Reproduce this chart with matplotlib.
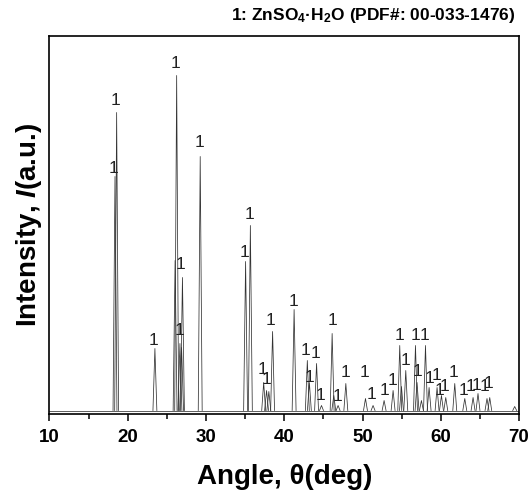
import matplotlib
matplotlib.use('Agg')
import matplotlib.pyplot as plt
from matplotlib.ticker import MultipleLocator

plt.rcParams['font.family'] = ['Liberation Sans', 'DejaVu Sans']
plt.rcParams['mathtext.fontset'] = 'custom'
plt.rcParams['mathtext.rm'] = 'Liberation Sans:bold'
plt.rcParams['mathtext.it'] = 'Liberation Sans:italic:bold'
plt.rcParams['mathtext.bf'] = 'Liberation Sans:bold'

# Положения пиков (2θ) и их интенсивности (отн. ед.)
peak_angle = [18.37, 18.58, 23.47, 26.05, 26.25, 26.67, 26.88, 26.99, 29.26,
              35.06, 35.67, 37.37, 37.74, 38.03, 38.51, 41.26, 42.95, 43.21,
              44.13, 44.76, 46.12, 46.33, 46.88, 47.87, 50.38, 51.35, 52.76,
              53.91, 54.76, 54.98, 55.53, 56.77, 56.97, 57.53, 58.05, 58.51,
              59.53, 60.09, 60.64, 61.79, 63.07, 64.13, 64.76, 65.91, 66.26,
              69.45]
peak_height = [234, 298, 62, 150, 335, 67, 63, 133, 254,
               149, 185, 28, 20, 19, 79, 101, 50, 28,
               47, 5, 77, 15, 5, 27, 12, 5, 10,
               20, 65, 24, 40, 65, 28, 10, 65, 23,
               23, 15, 13, 27, 12, 13, 17, 12, 13,
               4]

# Метки фазы "1" (положение и высота)
label_angle = [18.49, 18.24, 23.26, 26.16, 26.76, 26.58, 29.22, 34.88, 35.61,
               37.20, 37.74, 38.29, 41.23, 42.76, 43.18, 44.04, 44.67, 46.12,
               46.76, 47.83, 50.29, 51.15, 52.76, 53.83, 54.67, 55.49, 56.77,
               56.97, 57.96, 58.51, 59.45, 59.79, 60.42, 61.66, 62.85, 63.79,
               64.56, 65.62, 66.13]
label_height = [310, 242, 70, 347, 146, 80, 268, 158, 196,
                41, 31, 90, 109, 60, 33, 57, 15, 90,
                14, 38, 38, 16, 20, 30, 75, 50, 75,
                39, 75, 32, 35, 20, 24, 38, 20, 24,
                25, 24, 27]

x_ticks = [10, 20, 30, 40, 50, 60, 70]
half_width = 0.25

fig = plt.figure(figsize=(5.3, 4.94), dpi=100)
ax = fig.add_axes([49.5 / 530, 80 / 494, (519 - 49.5) / 530, (414 - 36) / 494])

ax.plot([10, 70], [0, 0], color='#333333', lw=0.55)
for a, h in zip(peak_angle, peak_height):
    ax.plot([a - half_width, a, a + half_width], [0, h, 0], color='#333333', lw=0.55)

for a, h in zip(label_angle, label_height):
    ax.text(a, h, '1', ha='center', va='center', fontsize=12.5, color='#222222')

ax.set_xlim(10, 70)
ax.set_ylim(-3.5, 374.5)
ax.set_xticks(x_ticks)
ax.xaxis.set_minor_locator(MultipleLocator(5))
ax.set_yticks([])
ax.tick_params(axis='x', which='major', direction='out', length=5, width=1.1,
               labelsize=13.5, pad=6)
ax.tick_params(axis='x', which='minor', direction='out', length=3.5, width=1.1)
for lbl in ax.get_xticklabels():
    lbl.set_fontweight('bold')
for s in ax.spines.values():
    s.set_linewidth(1.2)

ax.set_xlabel('Angle, θ(deg)', fontsize=20, fontweight='bold', labelpad=13)
ax.set_ylabel(r'Intensity, $\mathit{I}$(a.u.)', fontsize=20, fontweight='bold', labelpad=4)

fig.text(0.972, 0.968, r'1: ZnSO$_4$·H$_2$O (PDF#: 00-033-1476)', ha='right', va='center',
         fontsize=12.5, fontweight='bold')

fig.savefig('out.png', dpi=100)
